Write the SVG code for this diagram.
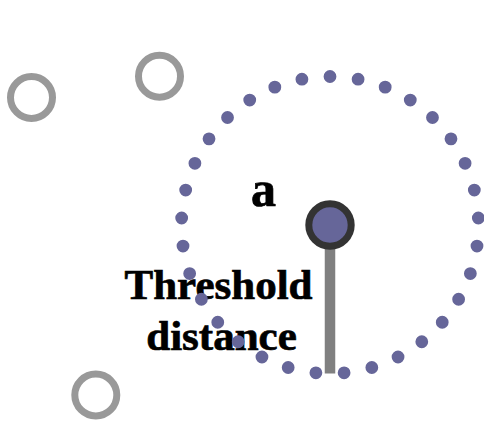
<svg xmlns="http://www.w3.org/2000/svg" width="484" height="421" viewBox="0 0 484 421">
<style>
.other{fill:none;stroke:#999999;stroke-width:7}
.lbl{font-family:"Liberation Serif","Times New Roman",serif;font-weight:bold;fill:#000;stroke:#000;stroke-width:0.7;text-anchor:middle}
.ring{fill:none;stroke:#666699;stroke-width:12.8;stroke-linecap:round;stroke-dasharray:0 1}
</style>
<rect width="484" height="421" fill="#ffffff"/>
<g id="node-b"><circle class="other" cx="31.5" cy="97.5" r="21"/></g>
<g id="node-c"><circle class="other" cx="159.5" cy="76.2" r="21"/></g>
<g id="node-d"><circle class="other" cx="95.8" cy="395" r="21"/></g>
<g id="labels">
<text class="lbl" x="263.5" y="205.5" font-size="50">a</text>
<text class="lbl" x="218.5" y="298.5" font-size="43">Threshold</text>
<text class="lbl" x="221.5" y="349.5" font-size="43">distance</text>
</g>
<g id="connectors">
<line x1="330" y1="225" x2="330" y2="373.5" stroke="#808080" stroke-width="10.5"/>
</g>
<g id="threshold-ring">
<path class="ring" pathLength="33" d="M330,76.5 A148.5,148.5 0 1 1 330,373.5 A148.5,148.5 0 1 1 330,76.5"/>
</g>
<g id="node-a"><circle cx="330" cy="225" r="21.2" fill="#666699" stroke="#333333" stroke-width="7"/></g>
</svg>
